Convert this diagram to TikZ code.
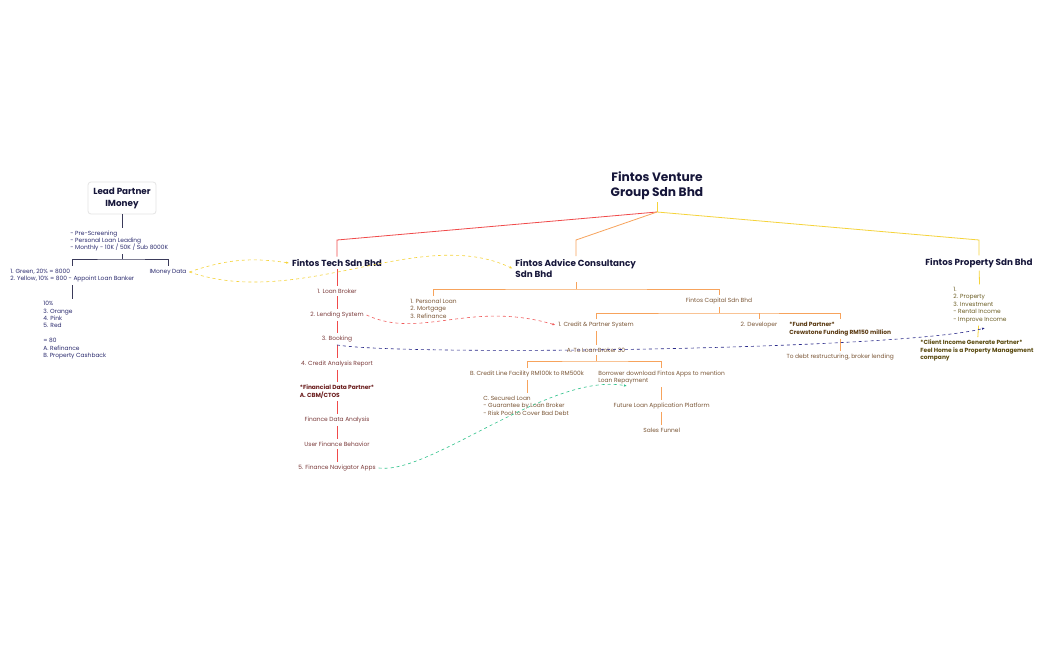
\documentclass[tikz,border=0pt]{standalone}
\usepackage{fontspec}
\setmainfont{Poppins}
\usepackage{xcolor}
\usetikzlibrary{arrows.meta}
\definecolor{Ink}{HTML}{16163A}
\definecolor{NavyText}{HTML}{2B2B6E}
\definecolor{TechText}{HTML}{7B3B3B}
\definecolor{TechDark}{HTML}{6A1C1C}
\definecolor{AdvText}{HTML}{7A5535}
\definecolor{AdvDark}{HTML}{5A3A12}
\definecolor{PropText}{HTML}{6B5D23}
\definecolor{PropDark}{HTML}{5A4A10}
\definecolor{RedLine}{HTML}{F04A4A}
\definecolor{OrangeLine}{HTML}{F7A35C}
\definecolor{YellowLine}{HTML}{F5D33A}
\definecolor{NavyLine}{HTML}{3A3A5A}
\definecolor{LinkNavy}{HTML}{2A2A8A}
\definecolor{LinkGreen}{HTML}{2EC28A}
\definecolor{LinkRed}{HTML}{F05A5A}

\begin{document}
\begin{tikzpicture}[x=1pt, y=-1pt, line width=0.8pt,
      every node/.append style={font=\fontsize{5.9}{7.4}\selectfont, inner sep=2.5pt},
      head/.style={font=\fontsize{8.8}{11}\selectfont\bfseries, color=Ink},
      navy/.style={color=NavyText, align=left},
      tech/.style={color=TechText, align=center},
      adv/.style={color=AdvText, align=left},
      prop/.style={color=PropText, align=left},
      link/.style={dashed, line width=0.6pt, -{Latex[length=3pt,width=2.4pt]}}]
      \tikzstyle{redline} = [draw=RedLine]
      \tikzstyle{orangeline} = [draw=OrangeLine]
      \tikzstyle{yellowline} = [draw=YellowLine]
      \tikzstyle{navyline} = [draw=NavyLine]
      \fill[white] (0,0) rectangle (1049,650);
      \useasboundingbox (0,0) rectangle (1049,650);

      \node (venture) [head, font=\fontsize{12.2}{15}\selectfont\bfseries, align=center] at (657,185.5) {Fintos Venture\\Group Sdn Bhd};
      \coordinate (vj) at (657,212);

      \node (lead) [head, align=center, font=\fontsize{8.8}{12}\selectfont\bfseries, draw=black!10, fill=white,
        rounded corners=3pt, minimum width=68, minimum height=32] at (122,198) {Lead Partner\\IMoney};
      \node (prescreen) [navy, anchor=west] at (67.5,241) {- Pre-Screening\\- Personal Loan Leading\\- Monthly - 10K / 50K / Sub 8000K};
      \node (green) [navy, anchor=west] at (7.5,275.5) {1. Green, 20\% = 8000\\2. Yellow, 10\% = 800 - Appoint Loan Banker};
      \node (imdata) [navy] at (168,272) {IMoney Data};
      \node (colors) [navy, anchor=north west] at (40.5,298.5) {10\%\\3. Orange\\4. Pink\\5. Red\\[7.4pt]= 80\\A. Refinance\\B. Property Cashback};

      \node (tech) [head] at (337,263) {Fintos Tech Sdn Bhd};
      \node (broker) [tech] at (337,291) {1. Loan Broker};
      \node (lending) [tech] at (337,315) {2. Lending System};
      \node (booking) [tech] at (337,339) {3. Booking};
      \node (credit) [tech] at (337,364) {4. Credit Analysis Report};
      \node (fdp) [tech, align=left, color=TechDark, font=\fontsize{5.9}{7.4}\selectfont\bfseries] at (337,391.5) {*Financial Data Partner*\\A. CBM/CTOS};
      \node (fda) [tech] at (337,420) {Finance Data Analysis};
      \node (ufb) [tech] at (337,444) {User Finance Behavior};
      \node (fna) [tech] at (337,468) {5. Finance Navigator Apps};

      \node (advice) [head, align=left, anchor=west] at (512.5,268.5) {Fintos Advice Consultancy\\Sdn Bhd};
      \node (loans) [adv, anchor=west] at (407.5,308.5) {1. Personal Loan\\2. Mortgage\\3. Refinance};
      \node (capital) [adv] at (719,301) {Fintos Capital Sdn Bhd};
      \node (cps) [adv] at (596,325) {1. Credit \& Partner System};
      \node (dev) [adv] at (759,325) {2. Developer};
      \node (fund) [adv, anchor=west, color=AdvDark, font=\fontsize{5.9}{7.4}\selectfont\bfseries] at (786.5,329) {*Fund Partner*\\Crewstone Funding RM150 million};
      \node (debt) [adv] at (fund.south |- 0,357) {To debt restructuring, broker lending};
      \node (toloan) [adv] at (596,350) {A. To Loan Broker 30};
      \node (creditline) [adv] at (527,374) {B. Credit Line Facility RM100k to RM500k};
      \node (borrower) [adv, anchor=west] at (595.5,377.5) {Borrower download Fintos Apps to mention\\Loan Repayment};
      \node (secured) [adv, anchor=west] at (480.5,405.5) {C. Secured Loan\\- Guarantee by Loan Broker\\- Risk Pool to Cover Bad Debt};
      \node (future) [adv] at (borrower.south |- 0,406) {Future Loan Application Platform};
      \node (sales) [adv] at (borrower.south |- 0,430) {Sales Funnel};

      \node (property) [head] at (979,263) {Fintos Property Sdn Bhd};
      \node (propitems) [prop, anchor=west] at (950.5,305) {1.\\2. Property\\3. Investment\\- Rental Income\\- Improve Income};
      \node (client) [prop, anchor=west, color=PropDark, font=\fontsize{5.9}{7.4}\selectfont\bfseries] at (917.5,350.5) {*Client Income Generate Partner*\\Feel Home is a Property Management\\company};

      \draw[yellowline] (venture.south) -- (vj);
      \draw[redline] (vj) -- (337,240) -- (tech);
      \draw[orangeline] (vj) -- (576,240) -- (576,256);
      \draw[yellowline] (vj) -- (979,240) -- (property);

      \draw[navyline] (lead) -- (lead.south |- prescreen.north);
      \draw[navyline] (prescreen.south -| lead.south) -- (122,259);
      \draw[navyline] (green.north) |- (122,259) -| (imdata.north);
      \draw[navyline] (green.south) -- (green.south |- colors.north);

      \draw[redline] (tech) -- (broker) -- (lending) -- (booking) -- (credit) -- (fdp) -- (fda) -- (ufb) -- (fna);

      \draw[orangeline] (576,282) -- (576,289);
      \draw[orangeline] (loans.north) |- (576,289) -| (capital.north);
      \draw[orangeline] (capital.south) -- (719,313);
      \draw[orangeline] (cps.north) |- (719,313) -| (fund.north);
      \draw[orangeline] (759,313) -- (dev.north);
      \draw[orangeline] (fund) -- (debt);
      \draw[orangeline] (cps) -- (toloan);
      \draw[orangeline] (toloan.south) -- (596,361);
      \draw[orangeline] (creditline.north) |- (596,361) -| (borrower.north);
      \draw[orangeline] (creditline.south) -- (creditline.south |- secured.north);
      \draw[orangeline] (borrower) -- (future) -- (sales);

      \draw[yellowline] (property) -- (propitems) -- (client);

      \draw[link, YellowLine] (imdata.east) .. controls (230,258) and (255,258) .. (tech.west);
      \draw[link, YellowLine] (imdata.east) .. controls (300,310) and (420,225) .. (advice.west);
      \draw[link, LinkRed] (lending.east) .. controls (420,340) and (470,300) .. (cps.west);
      \draw[link, LinkNavy] (booking.south) .. controls (400,356) and (900,350) .. (985,328);
      \draw[link, LinkGreen] (fna.east) .. controls (430,475) and (550,372) .. (627,386);
\end{tikzpicture}
\end{document}
